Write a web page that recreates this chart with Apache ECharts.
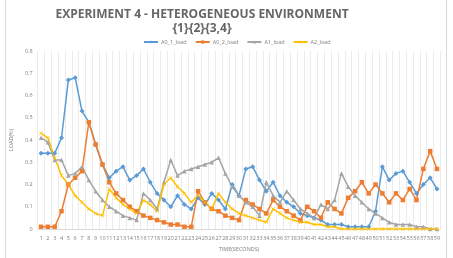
<!DOCTYPE html>
<html>
<head>
<meta charset="utf-8">
<script src="https://cdn.jsdelivr.net/npm/echarts@6/dist/echarts.min.js"></script>
<style>
  html, body { margin: 0; padding: 0; background: #fff; }
  #chart { width: 453px; height: 258px; }
</style>
</head>
<body>
<div id="chart"></div>
<script>
// time in seconds, 1..59
var seconds = ['1','2','3','4','5','6','7','8','9','10','11','12','13','14','15','16','17','18','19','20',
  '21','22','23','24','25','26','27','28','29','30','31','32','33','34','35','36','37','38','39','40',
  '41','42','43','44','45','46','47','48','49','50','51','52','53','54','55','56','57','58','59']

var a01Load = [0.34, 0.34, 0.34, 0.41, 0.67, 0.68, 0.53, 0.48, 0.38, 0.29,
  0.23, 0.26, 0.28, 0.22, 0.24, 0.27, 0.21, 0.16, 0.13, 0.10,
  0.15, 0.11, 0.09, 0.14, 0.11, 0.16, 0.13, 0.09, 0.20, 0.15,
  0.27, 0.28, 0.22, 0.17, 0.21, 0.15, 0.12, 0.10, 0.07, 0.06,
  0.05, 0.04, 0.02, 0.02, 0.02, 0.01, 0.01, 0.01, 0.01, 0.08,
  0.28, 0.22, 0.25, 0.26, 0.21, 0.16, 0.20, 0.23, 0.18]

var a02Load = [0.01, 0.01, 0.01, 0.08, 0.20, 0.23, 0.26, 0.48, 0.38, 0.29,
  0.21, 0.16, 0.13, 0.10, 0.08, 0.06, 0.05, 0.04, 0.03, 0.02,
  0.02, 0.01, 0.01, 0.17, 0.12, 0.09, 0.08, 0.06, 0.05, 0.04,
  0.13, 0.11, 0.09, 0.07, 0.13, 0.10, 0.08, 0.06, 0.04, 0.10,
  0.08, 0.05, 0.12, 0.09, 0.07, 0.14, 0.17, 0.21, 0.16, 0.20,
  0.16, 0.12, 0.16, 0.13, 0.18, 0.13, 0.27, 0.35, 0.27]

var a1Load = [0.41, 0.39, 0.31, 0.31, 0.24, 0.25, 0.28, 0.22, 0.17, 0.13,
  0.10, 0.08, 0.06, 0.05, 0.04, 0.16, 0.13, 0.09, 0.21, 0.31,
  0.24, 0.26, 0.27, 0.28, 0.29, 0.30, 0.32, 0.25, 0.19, 0.15,
  0.12, 0.10, 0.06, 0.21, 0.15, 0.12, 0.17, 0.13, 0.09, 0.07,
  0.05, 0.11, 0.09, 0.13, 0.25, 0.19, 0.15, 0.12, 0.09, 0.07,
  0.05, 0.03, 0.02, 0.02, 0.02, 0.01, 0.01, 0.00, 0.00]

var a2Load = [0.43, 0.41, 0.32, 0.24, 0.20, 0.15, 0.12, 0.09, 0.07, 0.06,
  0.18, 0.14, 0.11, 0.09, 0.07, 0.13, 0.11, 0.08, 0.20, 0.23,
  0.19, 0.16, 0.12, 0.15, 0.12, 0.09, 0.16, 0.12, 0.09, 0.07,
  0.06, 0.05, 0.04, 0.03, 0.09, 0.07, 0.05, 0.04, 0.03, 0.03,
  0.02, 0.02, 0.01, 0.01, 0.00, 0.00, 0.00, 0.00, 0.00, 0.00,
  0.00, 0.00, 0.00, 0.00, 0.00, 0.00, 0.00, 0.00, 0.00]

var yTicks = { min: 0, max: 0.8, interval: 0.1 }

var crossSymbol = 'path://M0,1L1,0L5,4L9,0L10,1L6,5L10,9L9,10L5,6L1,10L0,9L4,5Z'
var fontFamily = 'Open Sans, Lato, sans-serif'

function lineSeries(name, data, color, symbol, size) {
  return {
    name: name,
    type: 'line',
    data: data,
    symbol: symbol,
    symbolSize: size,
    showSymbol: true,
    lineStyle: { color: color, width: 1.5 },
    itemStyle: { color: color, borderWidth: 0 },
    emphasis: { disabled: true }
  }
}

var chart = echarts.init(document.getElementById('chart'))
var option = {
  animation: false,
  backgroundColor: '#fff',
  textStyle: { fontFamily: fontFamily },
  graphic: [{
    // outer chart frame
    type: 'rect',
    shape: { x: 5.5, y: -5, width: 441, height: 270 },
    style: { fill: 'none', stroke: '#d9d9d9', lineWidth: 1 },
    silent: true
  }],
  title: {
    text: 'EXPERIMENT 4 - HETEROGENEOUS ENVIRONMENT\n{1}{2}{3,4}',
    left: 197,
    top: 3,
    textAlign: 'center',
    textStyle: {
      fontFamily: fontFamily,
      fontSize: 12,
      fontWeight: 'bold',
      color: '#666666',
      lineHeight: 14
    }
  },
  legend: {
    top: 34,
    left: 138,
    itemWidth: 14,
    itemHeight: 4,
    itemGap: 8,
    textStyle: { fontSize: 5.5, color: '#7f7f7f', padding: [0, 0, 0, -2] },
    data: ['A0_1_load', 'A0_2_load', 'A1_load', 'A2_load']
  },
  grid: {
    left: 36.6,
    right: 12.6,
    top: 51,
    bottom: 29
  },
  xAxis: {
    type: 'category',
    data: seconds,
    boundaryGap: true,
    name: 'TIME(SECONDS)',
    nameLocation: 'middle',
    nameGap: 17,
    nameTextStyle: { fontSize: 5.5, color: '#7f7f7f' },
    axisLine: { lineStyle: { color: '#d9d9d9' } },
    axisTick: { show: false },
    axisLabel: {
      interval: 0,
      fontSize: 5.5,
      color: '#7f7f7f',
      margin: 6
    },
    splitLine: { // vertical grid lines
      show: true,
      interval: 0,
      lineStyle: { color: '#ebebeb', width: 1 }
    }
  },
  yAxis: {
    type: 'value',
    min: yTicks.min,
    max: yTicks.max,
    interval: yTicks.interval,
    name: 'LOAD(%)',
    nameLocation: 'middle',
    nameGap: 19,
    nameTextStyle: { fontSize: 5.5, color: '#7f7f7f' },
    axisLine: { show: false },
    axisTick: { show: false },
    axisLabel: { fontSize: 5.5, color: '#7f7f7f', margin: 5 },
    splitLine: { show: false }
  },
  series: [
    lineSeries('A0_1_load', a01Load, '#5b9bd5', 'diamond', 5),
    lineSeries('A0_2_load', a02Load, '#ed7d31', 'rect', 4.5),
    lineSeries('A1_load', a1Load, '#a5a5a5', 'triangle', 4.5),
    lineSeries('A2_load', a2Load, '#ffc000', crossSymbol, 4)
  ]
}
chart.setOption(option)
</script>
</body>
</html>
